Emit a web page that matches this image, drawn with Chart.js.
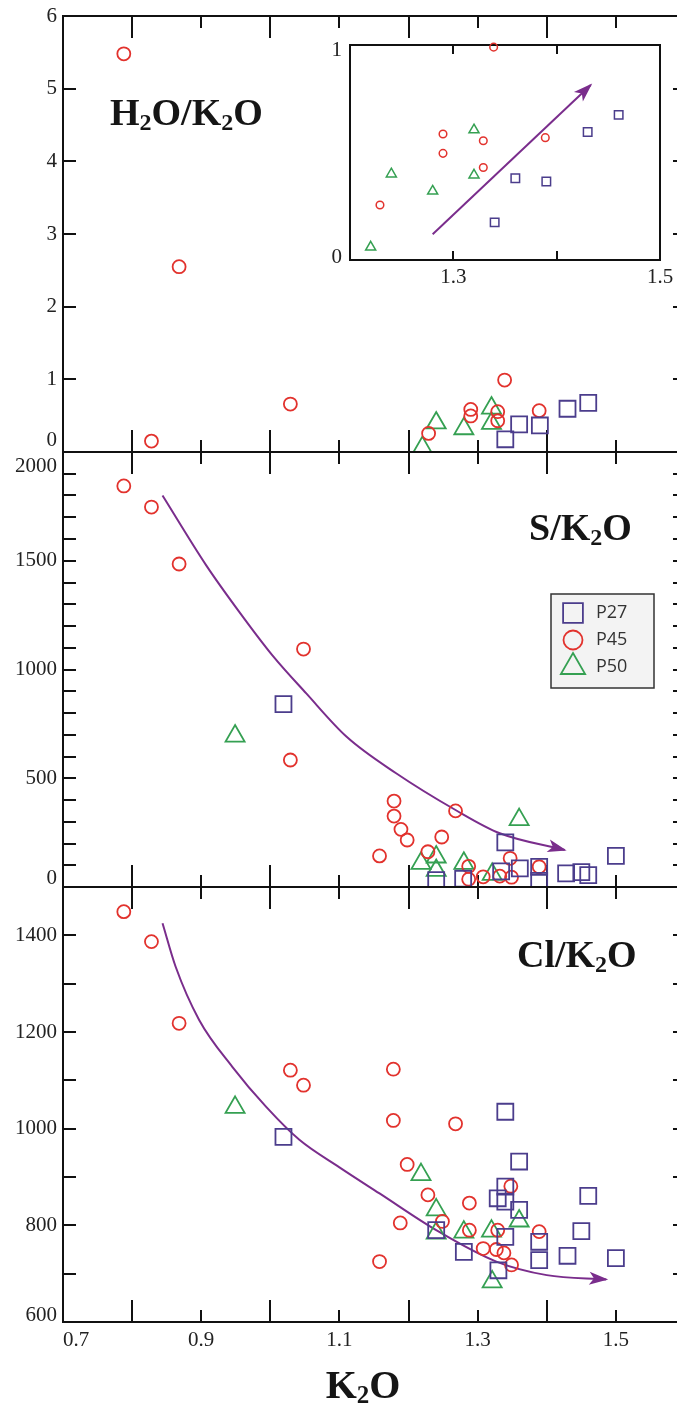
<!DOCTYPE html>
<html>
<head>
<meta charset="utf-8">
<script src="https://cdn.jsdelivr.net/npm/chart.js@4.4.1/dist/chart.umd.min.js"></script>
<style>
	html, body { margin: 0; padding: 0; background: #fff; }
	#wrap { position: relative; width: 677px; height: 1408px; overflow: hidden; background: #fff; }
	.pane { position: absolute; }
	.pane canvas { display: block; }
</style>
</head>
<body>
<div id="wrap">
	<div class="pane" style="left:0;top:0;width:690px;height:470px"><canvas id="c1"></canvas></div>
	<div class="pane" style="left:0;top:440px;width:690px;height:460px"><canvas id="c2"></canvas></div>
	<div class="pane" style="left:0;top:875px;width:690px;height:533px"><canvas id="c3"></canvas></div>
	<div class="pane" style="left:300px;top:20px;width:377px;height:280px"><canvas id="c4"></canvas></div>
</div>
<script>
// K2O range shared by the three panels
var xMin = 0.7, xMax = 1.6;
var xTickLabels = ['0.7', '0.9', '1.1', '1.3', '1.5'];
var insetTickLabels = ['1.3', '1.5'];

// H2O/K2O
var h2oK27 = [1.34, 1.36, 1.39, 1.43, 1.46];
var h2oP27 = [0.175, 0.38, 0.365, 0.595, 0.675];
var h2oK45 = [0.788, 0.828, 0.868, 1.029, 1.229, 1.29, 1.29, 1.329, 1.329, 1.339, 1.389];
var h2oP45 = [5.48, 0.15, 2.55, 0.66, 0.256, 0.586, 0.496, 0.555, 0.43, 0.99, 0.569];
var h2oK50 = [1.22, 1.24, 1.28, 1.32, 1.32];
var h2oP50 = [0.06, 0.40, 0.32, 0.395, 0.605];
var h2oTrendK = [1.28, 1.433];
var h2oTrendV = [0.12, 0.814];

// S/K2O
var sK27 = [1.019, 1.240, 1.279, 1.334, 1.340, 1.361, 1.389, 1.389, 1.428, 1.450, 1.460, 1.500];
var sP27 = [841, 32, 38, 72, 205, 86, 93, 28, 63, 68, 55, 143];
var sK45 = [0.788, 0.828, 0.868, 1.029, 1.048, 1.158, 1.179, 1.179, 1.189, 1.198, 1.228, 1.248, 1.268, 1.287, 1.287, 1.308, 1.332, 1.347, 1.349, 1.389];
var sP45 = [1844, 1747, 1485, 584, 1094, 143, 395, 326, 265, 216, 162, 230, 350, 95, 36, 47, 50, 132, 45, 93];
var sK50 = [0.949, 1.218, 1.240, 1.240, 1.280, 1.321, 1.360];
var sP50 = [694, 109, 138, 76, 109, 58, 310];
var sTrendK = [0.844, 0.907, 0.955, 1.003, 1.052, 1.110, 1.182, 1.268, 1.332, 1.426];
var sTrendV = [1800, 1480, 1265, 1065, 890, 692, 523, 354, 247, 170];

// Cl/K2O
var clK27 = [1.019, 1.240, 1.280, 1.329, 1.330, 1.340, 1.340, 1.340, 1.340, 1.360, 1.360, 1.389, 1.389, 1.430, 1.450, 1.460, 1.500];
var clP27 = [983, 790, 745, 856, 707, 1035, 880, 849, 776, 932, 832, 766, 728, 737, 788, 861, 732];
var clK45 = [0.788, 0.828, 0.868, 1.029, 1.048, 1.158, 1.178, 1.178, 1.188, 1.198, 1.228, 1.249, 1.268, 1.288, 1.288, 1.308, 1.327, 1.329, 1.338, 1.348, 1.349, 1.389];
var clP45 = [1449, 1387, 1218, 1121, 1090, 725, 1123, 1017, 805, 926, 863, 808, 1010, 846, 790, 752, 750, 790, 743, 881, 718, 787];
var clK50 = [0.949, 1.218, 1.240, 1.240, 1.280, 1.320, 1.321, 1.360];
var clP50 = [1044, 905, 832, 784, 786, 788, 683, 809];
var clTrendK = [0.844, 0.863, 0.897, 0.945, 0.994, 1.042, 1.100, 1.158, 1.240, 1.327, 1.400, 1.486];
var clTrendV = [1425, 1335, 1225, 1128, 1045, 977, 920, 866, 790, 725, 697, 688];

var colP27 = '#4b3d8c', colP45 = '#e2322d', colP50 = '#35a052', colTrend = '#7a2d8c';
var serif = "'Liberation Serif', 'DejaVu Serif', serif";

function pts(xs, ys) {
	return xs.map(function (v, i) { return { x: v, y: ys[i] }; });
}

function markers(label, xs, ys, style, color, r, bw) {
	return {
		label: label, data: pts(xs, ys), pointStyle: style,
		pointRadius: r, pointHoverRadius: r, pointBorderWidth: bw, borderWidth: bw,
		borderColor: color, backgroundColor: 'rgba(0,0,0,0)', showLine: false
	};
}

function trend(xs, ys) {
	return {
		label: 'trend', data: pts(xs, ys), showLine: true, pointRadius: 0,
		borderColor: colTrend, borderWidth: 2, cubicInterpolationMode: 'monotone', fill: false, arrow: true
	};
}

// frame of the panel + inward ticks, drawn from the scale ticks
var frameTicks = {
	id: 'frameTicks',
	beforeDatasetsDraw: function (chart, args, o) {
		var ctx = chart.ctx, a = chart.chartArea;
		var xs = chart.scales.x, ys = chart.scales.y;
		ctx.save();
		ctx.strokeStyle = '#111';
		ctx.lineWidth = 2;
		ctx.beginPath();
		ctx.rect(a.left, a.top, a.right - a.left, a.bottom - a.top);
		xs.ticks.forEach(function (t) {
			if (t.value <= xs.min + 1e-9 || t.value >= xs.max - 1e-9) return;
			var px = Math.round(xs.getPixelForValue(t.value));
			var len = Math.round(t.value * 10) % 2 === 0 ? o.xLong : o.xShort;
			ctx.moveTo(px, a.top); ctx.lineTo(px, a.top + len);
			ctx.moveTo(px, a.bottom); ctx.lineTo(px, a.bottom - len);
		});
		if (o.yLeft) {
			ys.ticks.forEach(function (t) {
				if (t.value <= ys.min || t.value >= ys.max) return;
				var py = Math.round(ys.getPixelForValue(t.value));
				ctx.moveTo(a.left, py); ctx.lineTo(a.left + o.yLeft, py);
				ctx.moveTo(a.right, py); ctx.lineTo(a.right - o.yRight, py);
			});
		}
		ctx.stroke();
		ctx.restore();
	}
};

// arrow head at the end of trend lines
var arrowHeads = {
	id: 'arrowHeads',
	afterDatasetsDraw: function (chart) {
		var ctx = chart.ctx;
		chart.data.datasets.forEach(function (ds, i) {
			if (!ds.arrow) return;
			var meta = chart.getDatasetMeta(i);
			var n = meta.data.length;
			var p = meta.data[n - 1], q = meta.data[n - 2];
			var bx = p.cp1x, by = p.cp1y;
			if (bx === undefined || (Math.abs(bx - p.x) < 0.5 && Math.abs(by - p.y) < 0.5)) {
				bx = q.x; by = q.y;
			}
			var ang = Math.atan2(p.y - by, p.x - bx);
			var L = 17, W = 6.5;
			ctx.save();
			ctx.translate(p.x, p.y);
			ctx.rotate(ang);
			ctx.beginPath();
			ctx.moveTo(2, 0);
			ctx.lineTo(-L, -W);
			ctx.lineTo(-L * 0.72, 0);
			ctx.lineTo(-L, W);
			ctx.closePath();
			ctx.fillStyle = ds.borderColor;
			ctx.fill();
			ctx.restore();
		});
	}
};

// bold serif labels with subscripts ('_2' = subscript 2)
var richTitle = {
	id: 'richTitle',
	afterDraw: function (chart, args, o) {
		var ctx = chart.ctx;
		(o.items || []).forEach(function (t) {
			var big = 'bold ' + t.size + 'px ' + serif;
			var small = 'bold ' + Math.round(t.size * 0.62) + 'px ' + serif;
			var w = 0;
			t.parts.forEach(function (p) {
				ctx.font = p.charAt(0) === '_' ? small : big;
				w += ctx.measureText(p.replace('_', '')).width;
			});
			var x = t.center ? t.x - w / 2 : t.x;
			ctx.save();
			ctx.fillStyle = '#151515';
			ctx.textBaseline = 'alphabetic';
			ctx.textAlign = 'left';
			t.parts.forEach(function (p) {
				var sub = p.charAt(0) === '_';
				var s = p.replace('_', '');
				ctx.font = sub ? small : big;
				ctx.fillText(s, x, t.y + (sub ? Math.round(t.size * 0.12) : 0));
				x += ctx.measureText(s).width;
			});
			ctx.restore();
		});
	}
};

var boxLegend = {
	id: 'boxLegend',
	afterDraw: function (chart, args, o) {
		var ctx = chart.ctx;
		var radius = { rect: 14, circle: 9.5, triangle: 14 };
		ctx.save();
		ctx.fillStyle = '#f3f3f3';
		ctx.fillRect(o.left, o.top, o.width, o.height);
		ctx.strokeStyle = '#333';
		ctx.lineWidth = 1.5;
		ctx.strokeRect(o.left, o.top, o.width, o.height);
		chart.data.datasets.filter(function (d) { return !d.arrow; }).forEach(function (d, i) {
			var y = o.top + 19 + i * 27;
			ctx.fillStyle = 'rgba(0,0,0,0)';
			ctx.strokeStyle = d.borderColor;
			ctx.lineWidth = 1.8;
			Chart.helpers.drawPoint(ctx, { pointStyle: d.pointStyle, radius: radius[d.pointStyle], borderWidth: 1.8, rotation: 0 }, o.left + 22, y);
			ctx.fillStyle = '#333';
			ctx.font = "18px 'Open Sans', 'Noto Sans', sans-serif";
			ctx.textBaseline = 'middle';
			ctx.textAlign = 'left';
			ctx.fillText(d.label, o.left + 45, y);
		});
		ctx.restore();
	}
};

function xLabel(v) {
	var s = v.toFixed(1);
	if (xTickLabels.indexOf(s) < 0) return '';
	// first label sits right of the axis corner
	return s === '0.7' ? '\u2007\u2007 0.7' : s;
}

// fixed axis sizes, and no extra room for labels hanging past the ends
function fixX(h) {
	return function (s) { s.height = h; s.paddingLeft = 0; s.paddingRight = 0; };
}
function fixY(w) {
	return function (s) { s.width = w; s.paddingTop = 0; s.paddingBottom = 0; };
}

function xAxis(showLabels, h) {
	return {
		type: 'linear', min: xMin, max: xMax,
		grid: { display: false, drawTicks: false }, border: { display: false },
		ticks: { stepSize: 0.1, autoSkip: false, maxRotation: 0, display: showLabels, padding: 6, color: '#222', font: { family: serif, size: 21 }, callback: xLabel },
		afterFit: fixX(h)
	};
}

// edge labels are nudged into the panel with a blank extra line
function yAxis(min, max, step, every, edges) {
	return {
		type: 'linear', min: min, max: max,
		grid: { display: false, drawTicks: false }, border: { display: false },
		ticks: {
			stepSize: step, autoSkip: false, padding: 6, color: '#222',
			font: function (c) {
				var v = c.tick ? c.tick.value : null;
				var f = { family: serif, size: 21 };
				if (v !== null && edges[v]) f.lineHeight = edges[v][1] + 'px';
				return f;
			},
			callback: function (v) {
				if (v % every !== 0) return '';
				if (edges[v]) return edges[v][0] === 'up' ? [String(v), ''] : ['', String(v)];
				return String(v);
			}
		},
		afterFit: fixY(63)
	};
}

function baseOptions(pad, scales, extra) {
	var plugins = { legend: { display: false }, tooltip: { enabled: false } };
	for (var k in extra) plugins[k] = extra[k];
	return {
		responsive: true, maintainAspectRatio: false, animation: false, events: [], devicePixelRatio: 1,
		layout: { padding: pad, autoPadding: false },
		scales: scales,
		plugins: plugins
	};
}

var frameMain = { xLong: 22, xShort: 12, yLeft: 13, yRight: 12 };

new Chart(document.getElementById('c1'), {
	type: 'scatter',
	data: { datasets: [
		markers('P27', h2oK27, h2oP27, 'rect', colP27, 11.3, 1.8),
		markers('P45', h2oK45, h2oP45, 'circle', colP45, 6.5, 1.8),
		markers('P50', h2oK50, h2oP50, 'triangle', colP50, 11, 1.8)
	] },
	options: baseOptions({ top: 16, bottom: 18, left: 0, right: 5 },
		{ x: xAxis(false, 0), y: yAxis(0, 6, 1, 1, { 0: ['up', 24] }) },
		{ frameTicks: frameMain, richTitle: { items: [{ x: 110, y: 125, size: 38, parts: ['H', '_2', 'O/K', '_2', 'O'] }] } }),
	plugins: [frameTicks, richTitle]
});

new Chart(document.getElementById('c2'), {
	type: 'scatter',
	data: { datasets: [
		markers('P27', sK27, sP27, 'rect', colP27, 11.3, 1.8),
		markers('P45', sK45, sP45, 'circle', colP45, 6.5, 1.8),
		markers('P50', sK50, sP50, 'triangle', colP50, 11, 1.8),
		trend(sTrendK, sTrendV)
	] },
	options: baseOptions({ top: 12, bottom: 13, left: 0, right: 5 },
		{ x: xAxis(false, 0), y: yAxis(0, 2000, 100, 500, { 0: ['up', 18], 2000: ['down', 28] }) },
		{ frameTicks: frameMain,
		  richTitle: { items: [{ x: 529, y: 100, size: 38, parts: ['S/K', '_2', 'O'] }] },
		  boxLegend: { left: 551, top: 154, width: 103, height: 94 } }),
	plugins: [frameTicks, arrowHeads, richTitle, boxLegend]
});

new Chart(document.getElementById('c3'), {
	type: 'scatter',
	data: { datasets: [
		markers('P27', clK27, clP27, 'rect', colP27, 11.3, 1.8),
		markers('P45', clK45, clP45, 'circle', colP45, 6.5, 1.8),
		markers('P50', clK50, clP50, 'triangle', colP50, 11, 1.8),
		trend(clTrendK, clTrendV)
	] },
	options: baseOptions({ top: 12, bottom: 0, left: 0, right: 5 },
		{ x: xAxis(true, 86), y: yAxis(600, 1500, 100, 200, { 600: ['up', 14] }) },
		{ frameTicks: frameMain,
		  richTitle: { items: [
			{ x: 517, y: 92, size: 38, parts: ['Cl/K', '_2', 'O'] },
			{ x: 363, y: 523, size: 40, center: true, parts: ['K', '_2', 'O'] }
		  ] } }),
	plugins: [frameTicks, arrowHeads, richTitle]
});

// inset: close-up of the H2O/K2O cluster
var insetSets = [
	markers('P27', h2oK27, h2oP27, 'rect', colP27, 6, 1.5),
	markers('P45', h2oK45, h2oP45, 'circle', colP45, 3.8, 1.5),
	markers('P50', h2oK50, h2oP50, 'triangle', colP50, 5.8, 1.5),
	trend(h2oTrendK, h2oTrendV)
];
insetSets.forEach(function (d) { d.clip = 10; });

new Chart(document.getElementById('c4'), {
	type: 'scatter',
	data: { datasets: insetSets },
	options: baseOptions({ top: 25, bottom: 0, left: 0, right: 17 }, {
		x: {
			type: 'linear', min: 1.2, max: 1.5,
			grid: { display: false, drawTicks: false }, border: { display: false },
			ticks: { stepSize: 0.1, autoSkip: false, maxRotation: 0, padding: 5, color: '#222', font: { family: serif, size: 21 },
				callback: function (v) { var s = v.toFixed(1); return insetTickLabels.indexOf(s) >= 0 ? s : ''; } },
			afterFit: fixX(40)
		},
		y: {
			type: 'linear', min: 0, max: 1,
			grid: { display: false, drawTicks: false }, border: { display: false },
			ticks: { stepSize: 1, autoSkip: false, padding: 8, color: '#222',
				font: function (c) {
					var v = c.tick ? c.tick.value : 0;
					return { family: serif, size: 21, lineHeight: (v === 0 ? 6 : 10) + 'px' };
				},
				callback: function (v) { return v === 0 ? ['0', ''] : ['', String(v)]; } },
			afterFit: fixY(50)
		}
	}, { frameTicks: { xLong: 9, xShort: 9, yLeft: 0 } }),
	plugins: [frameTicks, arrowHeads]
});
</script>
</body>
</html>
